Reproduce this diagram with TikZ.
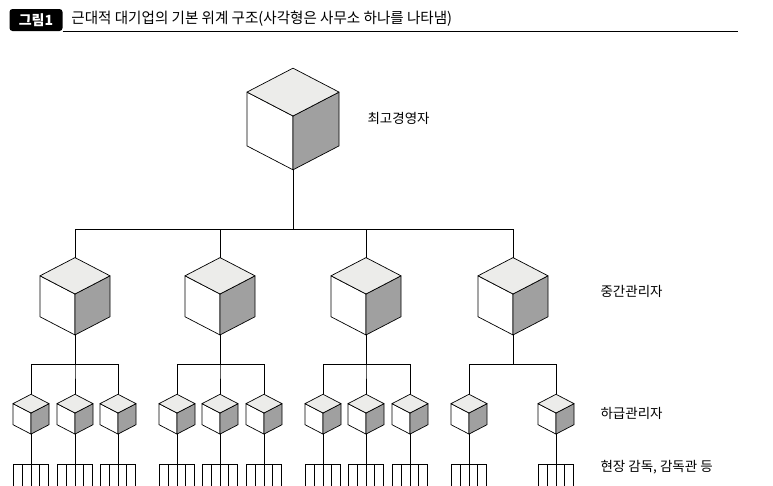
\documentclass[tikz,border=0pt]{standalone}
\usepackage{fontspec}
\setmainfont{Noto Sans CJK KR}
\usetikzlibrary{positioning}
\definecolor{topface}{HTML}{ECECEA}
\definecolor{sideface}{HTML}{A0A0A0}
\tikzset{
    face/.style={draw, line width=0.7pt, line join=round},
    link/.style={line width=0.8pt},
    level/.style={anchor=west, font=\fontsize{13.5}{16}\selectfont},
}
% cube: name, x, y (front vertex), half width
\newcommand{\cubebox}[4]{%
    \pgfmathsetmacro{\cs}{0.52*#4}\pgfmathsetmacro{\ch}{1.17*#4}
    \draw[face, fill=white] (#2,#3) -- (#2-#4,#3-\cs) -- (#2-#4,#3-\cs+\ch) -- (#2,#3+\ch) -- cycle;
    \draw[face, fill=sideface] (#2,#3) -- (#2+#4,#3-\cs) -- (#2+#4,#3-\cs+\ch) -- (#2,#3+\ch) -- cycle;
    \draw[face, fill=topface] (#2,#3) -- (#2-#4,#3-\cs) -- (#2,#3-2*\cs) -- (#2+#4,#3-\cs) -- cycle;
    \coordinate (#1-t) at (#2,#3-2*\cs);
    \coordinate (#1-b) at (#2,#3+\ch);
}
\begin{document}
\begin{tikzpicture}[x=1pt, y=-1pt]
    \useasboundingbox (0,0) rectangle (773,485);

    % === HEADER ===
    \node[fill=black, text=white, rounded corners=3pt, font=\bfseries\fontsize{14}{16}\selectfont, minimum width=53pt, minimum height=22pt, inner sep=0pt] (tag) at (36,20) {그림1};
    \node[anchor=west, font=\fontsize{15}{18}\selectfont, xscale=0.97] (title) at (68,19) {근대적 대기업의 기본 위계 구조(사각형은 사무소 하나를 나타냄)};
    \draw[line width=0.8pt] (tag.south east) -- ++(675,0) coordinate (rule);

    % === TOP ===
    \cubebox{ceo}{293}{116}{46}
    \node[level] (lceo) at (364,118) {최고경영자};

    % === MIDDLE ===
    \foreach \i/\x in {1/75, 2/220, 3/366, 4/513} {
        \cubebox{m\i}{\x}{294}{35}
        \draw[link] (ceo-b) |- (\x,229) -- (m\i-t);
    }
    \draw[link] (m1-t |- 0,229) -- (m4-t |- 0,229);
    \node[level] (lmid) at (597,291) {중간관리자};

    % === LOWER ===
    \foreach \m/\xs in {1/{31,75,118}, 2/{177,220,264}, 3/{323,366,410}, 4/{469,556}} {
        \foreach \x in \xs {
            \cubebox{s\x}{\x}{413}{18}
            \draw[link] (m\m-b) |- (\x,364) -- (s\x-t);
            \draw[link] (s\x-b) -- (\x,464);
            \draw[link] (\x-17.5,464) -- (\x+17.5,464);
            \foreach \d in {-17.5,-8.75,0,8.75,17.5}
                \draw[link] (\x+\d,464) -- (\x+\d,486);
        }
    }
    \node[level] (llow) at (597,413) {하급관리자};
    \node[level] (lfield) at (597,467) {현장 감독, 감독관 등};

\end{tikzpicture}
\end{document}
